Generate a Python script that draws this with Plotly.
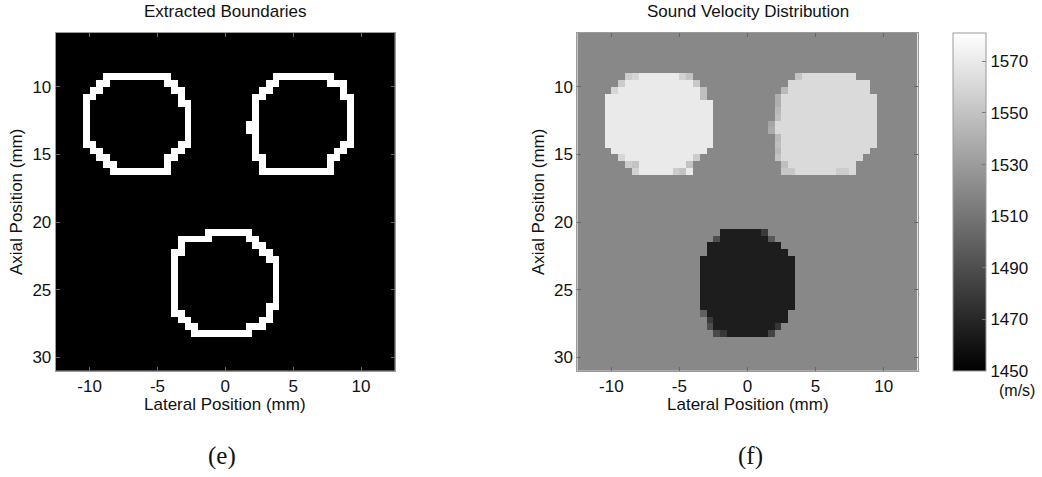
import numpy as np
import plotly.graph_objects as go

# Pixel grid (0.5 mm pitch): lateral and axial pixel centres in mm
lateral_mm = np.linspace(-12.25, 12.25, 50)
axial_mm = np.linspace(6.25, 30.75, 50)

# Sound speeds (m/s)
background_speed = 1520
upper_left_speed = 1570
upper_right_speed = 1562
lower_speed = 1465

# Inclusion footprints: (row, first column, last column)
upper_left_rows = [(6, 7, 16), (7, 6, 17), (8, 5, 18), (9, 4, 18), (10, 4, 19),
                   (11, 4, 19), (12, 4, 19), (13, 4, 19), (14, 4, 19), (15, 4, 19),
                   (16, 4, 19), (17, 5, 18), (18, 6, 17), (19, 7, 16), (20, 8, 16)]
upper_right_rows = [(6, 32, 40), (7, 31, 42), (8, 30, 42), (9, 29, 43), (10, 29, 43),
                    (11, 29, 43), (12, 29, 43), (13, 28, 43), (14, 28, 43), (15, 29, 43),
                    (16, 29, 43), (17, 29, 42), (18, 29, 41), (19, 30, 40), (20, 30, 40)]
# lower inclusion in the velocity map
lower_rows_speed = [(29, 21, 27), (30, 20, 28), (31, 19, 29), (32, 19, 30), (33, 18, 31),
                    (34, 18, 31), (35, 18, 31), (36, 18, 31), (37, 18, 31), (38, 18, 31),
                    (39, 18, 31), (40, 18, 31), (41, 18, 30), (42, 19, 30), (43, 19, 29),
                    (44, 20, 28)]
# lower inclusion as segmented for boundary extraction
lower_rows_edge = [(29, 22, 28), (30, 18, 29), (31, 18, 30), (32, 17, 31), (33, 17, 32),
                   (34, 17, 32), (35, 17, 32), (36, 17, 32), (37, 17, 32), (38, 17, 32),
                   (39, 17, 32), (40, 17, 32), (41, 17, 31), (42, 18, 31), (43, 19, 30),
                   (44, 20, 28)]

# Partial-volume pixels along the inclusion rims: (row, column, speed)
rim_pixels = [
    (6, 7, 1555), (6, 8, 1560), (6, 15, 1558), (6, 16, 1550), (7, 6, 1555), (7, 17, 1552),
    (8, 5, 1560), (8, 18, 1548), (9, 18, 1548), (18, 6, 1560), (19, 7, 1555), (19, 8, 1550),
    (20, 8, 1558), (20, 14, 1555), (20, 15, 1550), (18, 17, 1555), (19, 16, 1550),
    (6, 32, 1550), (8, 30, 1545), (9, 29, 1540), (10, 29, 1540), (11, 29, 1545),
    (12, 29, 1548), (13, 28, 1535), (14, 28, 1538), (15, 29, 1545), (16, 29, 1548),
    (17, 29, 1545), (18, 29, 1550), (19, 30, 1548), (20, 30, 1552), (20, 31, 1552),
    (20, 38, 1555), (20, 39, 1555),
    (29, 27, 1480), (30, 20, 1490), (30, 28, 1495), (41, 18, 1500), (42, 19, 1480),
    (43, 19, 1490), (43, 29, 1478), (44, 20, 1488), (44, 21, 1478), (44, 28, 1485),
]

lateral_ticks = [-10, -5, 0, 5, 10]
lateral_labels = ["-10", "-5", "0", "5", "10"]
axial_ticks = [10, 15, 20, 25, 30]
colorbar_ticks = [1450, 1470, 1490, 1510, 1530, 1550, 1570]
speed_min, speed_max = 1450, 1581

n = len(lateral_mm)


def fill(grid, rows, value):
    for r, c0, c1 in rows:
        grid[r, c0:c1 + 1] = value


# Velocity map
speed = np.full((n, n), float(background_speed))
fill(speed, upper_left_rows, upper_left_speed)
fill(speed, upper_right_rows, upper_right_speed)
fill(speed, lower_rows_speed, lower_speed)
for r, c, v in rim_pixels:
    speed[r, c] = v

# Segmentation mask and its 8-connected inner boundary
mask = np.zeros((n, n), dtype=bool)
fill(mask, upper_left_rows, True)
fill(mask, upper_right_rows, True)
fill(mask, lower_rows_edge, True)
padded = np.pad(mask, 1)
interior = np.ones_like(mask)
for dr in (-1, 0, 1):
    for dc in (-1, 0, 1):
        interior &= padded[1 + dr:1 + dr + n, 1 + dc:1 + dc + n]
boundary = (mask & ~interior).astype(float)

gray = [[0, "black"], [1, "white"]]
font = "Liberation Sans, Arial, sans-serif"

fig = go.Figure()
fig.add_trace(go.Heatmap(x=lateral_mm, y=axial_mm, z=boundary, colorscale=gray,
                         zmin=0, zmax=1, showscale=False, xaxis="x", yaxis="y",
                         hoverinfo="skip"))
fig.add_trace(go.Heatmap(
    x=lateral_mm, y=axial_mm, z=speed, colorscale=gray, zmin=speed_min, zmax=speed_max,
    xaxis="x2", yaxis="y2",
    colorbar=dict(x=953 / 1042, xanchor="left", xpad=0, ypad=0,
                  y=1 - 371 / 477, yanchor="bottom", len=338 / 477, lenmode="fraction",
                  thickness=33, thicknessmode="pixels", outlinewidth=1,
                  outlinecolor="#9a9a9a", tickvals=colorbar_ticks, ticks="inside",
                  ticklen=4, tickcolor="#777", tickfont=dict(size=17, color="#111",
                                                              family=font))))

ydom = [1 - 371 / 477, 1 - 32.7 / 477]
axis_common = dict(ticks="inside", ticklen=4, tickcolor="#666", showline=True,
                   linecolor="#9a9a9a", linewidth=1, mirror="ticks", showgrid=False,
                   zeroline=False, tickfont=dict(size=17, color="#111", family=font))
fig.update_layout(
    width=1042, height=477, margin=dict(l=0, r=0, t=0, b=0),
    paper_bgcolor="white", plot_bgcolor="white", showlegend=False,
    xaxis=dict(domain=[55.7 / 1042, 395 / 1042], range=[-12.5, 12.5],
               tickvals=lateral_ticks, ticktext=lateral_labels, anchor="y", **axis_common),
    yaxis=dict(domain=ydom, range=[31, 6], tickvals=axial_ticks, anchor="x", **axis_common),
    xaxis2=dict(domain=[577.3 / 1042, 917.7 / 1042], range=[-12.5, 12.5],
                tickvals=lateral_ticks, ticktext=lateral_labels, anchor="y2", **axis_common),
    yaxis2=dict(domain=ydom, range=[31, 6], tickvals=axial_ticks, anchor="x2",
                **axis_common),
)


def text(x, y, s, size=17, fam=font, angle=0):
    fig.add_annotation(x=x / 1042, y=1 - y / 477, xref="paper", yref="paper", text=s,
                       showarrow=False, xanchor="center", yanchor="middle",
                       textangle=angle, font=dict(size=size, family=fam, color="#111"))


text(225, 12, "Extracted Boundaries")
text(747.5, 12, "Sound Velocity Distribution")
text(225, 404, "Lateral Position (mm)")
text(747.5, 404, "Lateral Position (mm)")
text(16, 202, "Axial Position (mm)", angle=-90)
text(538, 202, "Axial Position (mm)", angle=-90)
text(1017, 390, "(m/s)", size=16)
text(222, 456, "(e)", size=25, fam="Liberation Serif, Times New Roman, serif")
text(750, 456, "(f)", size=25, fam="Liberation Serif, Times New Roman, serif")

fig.write_html("out.html")
